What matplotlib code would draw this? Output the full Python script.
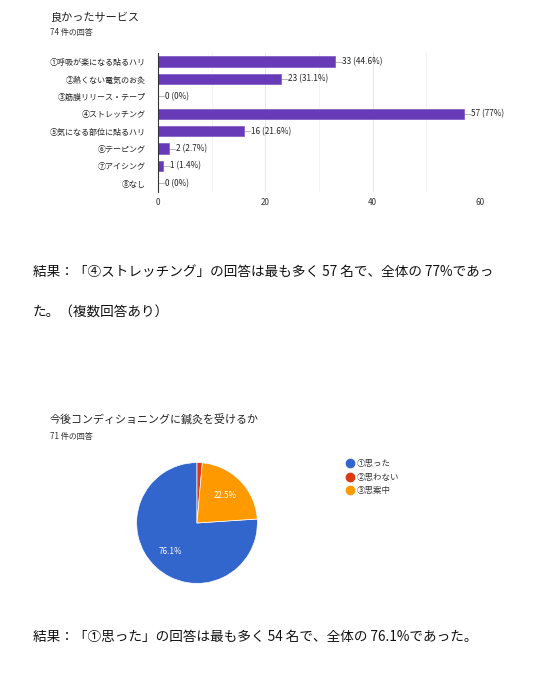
import matplotlib
matplotlib.use("Agg")
import matplotlib.pyplot as plt
from matplotlib.lines import Line2D

plt.rcParams['font.family'] = ['Noto Sans CJK JP', 'DejaVu Sans']

W, H = 547, 676

# bar chart data
bar_title = "良かったサービス"
bar_sub = "74 件の回答"
services = ["①呼吸が楽になる貼るハリ", "②熱くない電気のお灸", "③筋膜リリース・テープ",
            "④ストレッチング", "⑤気になる部位に貼るハリ", "⑥テーピング",
            "⑦アイシング", "⑧なし"]
counts = [33, 23, 0, 57, 16, 2, 1, 0]
pct_labels = ["44.6%", "31.1%", "0%", "77%", "21.6%", "2.7%", "1.4%", "0%"]
x_ticks = [0, 20, 40, 60]

# pie chart data
pie_title = "今後コンディショニングに鍼灸を受けるか"
pie_sub = "71 件の回答"
answers = ["①思った", "②思わない", "③思案中"]
answer_counts = [54, 1, 16]
pie_colors = ["#3366CC", "#DC3912", "#FF9900"]

text1 = "結果：「④ストレッチング」の回答は最も多く 57 名で、全体の 77%であっ"
text2 = "た。（複数回答あり）"
text3 = "結果：「①思った」の回答は最も多く 54 名で、全体の 76.1%であった。"

fig = plt.figure(figsize=(W / 100, H / 100), dpi=100)


def px(x, y):
    return x / W, 1 - y / H


def add_ax(left, top, right, bottom):
    return fig.add_axes([left / W, 1 - bottom / H, (right - left) / W, (bottom - top) / H])


# ---- bar chart ----
fig.text(*px(50, 18), bar_title, fontsize=8, color="#212121", va="center")
fig.text(*px(50, 33), bar_sub, fontsize=5.8, color="#333333", va="center")

ax = add_ax(158, 53, 480, 192)
ypos = list(range(len(services)))
ax.barh(ypos, counts, height=0.6, color="#673AB7", edgecolor="#7E57C2", linewidth=0.5, zorder=3)
ax.set_ylim(len(services) - 0.5, -0.5)
ax.set_xlim(0, 60)
ax.set_xticks(x_ticks)
ax.set_xticks([10, 30, 50], minor=True)
ax.set_yticks(ypos)
ax.set_yticklabels(services, fontsize=5.8, color="#222222")
ax.tick_params(axis="x", labelsize=5.8, colors="#333333", length=0, pad=4)
ax.tick_params(axis="x", which="minor", length=0)
ax.tick_params(axis="y", length=0, pad=9)
ax.grid(axis="x", which="major", color="#E6E6E6", linewidth=0.7, zorder=0)
ax.grid(axis="x", which="minor", color="#F3F3F3", linewidth=0.6, zorder=0)
for s in ["top", "right", "bottom"]:
    ax.spines[s].set_visible(False)
ax.spines["left"].set_color("#333333")
ax.spines["left"].set_linewidth(0.8)
ax.spines["left"].set_zorder(4)
for i, (c, p) in enumerate(zip(counts, pct_labels)):
    ax.plot([c, c + 1.2], [i, i], color="#AAAAAA", linewidth=0.6, zorder=2, clip_on=False)
    ax.text(c + 1.3, i, f"{c} ({p})", fontsize=5.9, color="#222222", va="center", ha="left")

# ---- paragraph text ----
fig.text(*px(33, 272), text1, fontsize=9.8, color="#111111", va="center")
fig.text(*px(33, 312), text2, fontsize=9.8, color="#111111", va="center")

# ---- pie chart ----
fig.text(*px(50, 420), pie_title, fontsize=7.9, color="#212121", va="center")
fig.text(*px(50, 436), pie_sub, fontsize=5.8, color="#333333", va="center")

r = 61
pax = add_ax(197 - r, 523 - r, 197 + r, 523 + r)
total = sum(answer_counts)
start = 90 + 360 * answer_counts[0] / total
wedges, texts, autotexts = pax.pie(
    answer_counts, colors=pie_colors, startangle=start, counterclock=False,
    wedgeprops=dict(edgecolor="white", linewidth=0.5),
    autopct=lambda v: f"{v:.1f}%" if v > 5 else "", pctdistance=0.65,
    textprops=dict(fontsize=5.8, color="white"))
pax.set_xlim(-1.01, 1.01)
pax.set_ylim(-1.01, 1.01)
pax.set_aspect("equal")

handles = [Line2D([], [], marker="o", linestyle="", markersize=6,
                  markerfacecolor=c, markeredgecolor=c) for c in pie_colors]
fig.legend(handles, answers, loc="upper left", bbox_to_anchor=px(345, 459),
           frameon=False, fontsize=6.1, labelcolor="#333333", handletextpad=0.2,
           labelspacing=0.55, borderaxespad=0, borderpad=0, handlelength=1.2)

fig.text(*px(33, 637), text3, fontsize=9.8, color="#111111", va="center")

fig.savefig("out.png", dpi=100)
